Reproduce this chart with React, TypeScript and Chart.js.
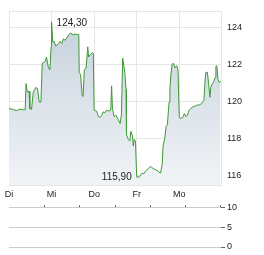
import React, { useEffect, useRef } from "react";
import { Chart, registerables } from "chart.js";

Chart.register(...registerables);

const dayLabels = ["Di", "Mi", "Do", "Fr", "Mo"];
const dayTicks = [0, 1, 2, 3, 4];
const priceTicks = [116, 118, 120, 122, 124];
const volumeTicks = [0, 5, 10];

const times = [
  0, 0.1, 0.18, 0.26, 0.34, 0.38, 0.4, 0.43, 0.47, 0.49, 0.53, 0.57, 0.63, 0.67, 0.71, 0.75,
  0.78, 0.81, 0.85, 0.88, 0.92, 0.96, 0.99, 1.0, 1.03, 1.06, 1.1, 1.16, 1.2, 1.24, 1.28, 1.31,
  1.35, 1.41, 1.45, 1.51, 1.55, 1.6, 1.64, 1.65, 1.68, 1.72, 1.74, 1.77, 1.81, 1.85, 1.87, 1.9,
  1.96, 1.98, 2.0, 2.06, 2.1, 2.14, 2.18, 2.21, 2.25, 2.29, 2.35, 2.39, 2.41, 2.43, 2.47, 2.51,
  2.57, 2.61, 2.64, 2.67, 2.7, 2.72, 2.75, 2.76, 2.8, 2.84, 2.86, 2.9, 2.92, 2.94, 2.97, 3.0,
  3.06, 3.09, 3.13, 3.17, 3.21, 3.27, 3.33, 3.36, 3.4, 3.44, 3.48, 3.52, 3.56, 3.6, 3.62, 3.66,
  3.69, 3.72, 3.76, 3.78, 3.8, 3.83, 3.86, 3.9, 3.94, 3.97, 4.0, 4.04, 4.08, 4.12, 4.16, 4.19,
  4.23, 4.27, 4.31, 4.37, 4.41, 4.47, 4.52, 4.58, 4.6, 4.62, 4.66, 4.69, 4.72, 4.74, 4.77, 4.8,
  4.84, 4.86, 4.88, 4.91, 4.94, 4.97,
];

const prices = [
  119.61, 119.55, 119.5, 119.58, 119.54, 119.55, 120.96, 120.5, 120.55, 119.6, 119.57, 120.5, 120.75, 120.7, 119.96, 119.96,
  122.07, 122.1, 122.16, 122.4, 121.9, 121.7, 122.95, 124.3, 123.2, 123.25, 122.99, 123.13, 123.25, 123.13, 123.39, 123.3,
  123.42, 123.62, 123.69, 123.6, 123.65, 123.62, 123.62, 121.55, 121.46, 120.31, 120.26, 121.72, 121.79, 122.95, 122.4, 122.5,
  122.64, 122.6, 119.52, 119.47, 119.17, 119.13, 119.26, 119.43, 119.38, 119.52, 119.47, 119.52, 120.84, 119.6, 119.17, 119.26,
  119.0, 118.8, 119.26, 122.34, 121.9, 121.55, 120.66, 118.2, 117.94, 117.85, 118.38, 118.12, 117.58, 117.94, 117.85, 115.9,
  115.9, 116.0, 116.12, 116.08, 116.23, 116.35, 116.48, 116.4, 116.35, 116.3, 116.26, 116.17, 116.12, 116.62, 117.58, 118.02,
  118.64, 118.73, 119.96, 120.66, 121.37, 121.98, 122.07, 121.81, 121.93, 121.7, 119.12, 119.08, 119.12, 119.34, 119.17, 119.26,
  119.52, 119.6, 119.7, 119.74, 119.79, 119.81, 119.87, 120.05, 120.93, 121.55, 121.58, 120.93, 120.22, 120.75, 120.93, 121.02,
  121.28, 121.9, 121.93, 121.19, 121.02, 121.1,
];

const volumes: number[] = [];

const FONT = "'Liberation Sans', Arial, sans-serif";
const TEXT = "#222";
const GRID = "#e6e6e6";

const fmt = (v: number) => v.toFixed(2).replace(".", ",");

const framePlugin = {
  id: "frame",
  beforeDatasetsDraw(chart: any) {
    const { ctx, chartArea } = chart;
    const l = Math.round(chartArea.left);
    const r = Math.round(chartArea.right);
    const t = Math.round(chartArea.top);
    const b = Math.round(chartArea.bottom);
    ctx.save();
    ctx.strokeStyle = GRID;
    ctx.lineWidth = 1;
    ctx.strokeRect(l + 0.5, t + 0.5, r - l, b - t);
    ctx.restore();
  },
};

const extremesPlugin = {
  id: "extremes",
  afterDatasetsDraw(chart: any) {
    const { ctx, scales } = chart;
    let maxI = 0;
    let minI = 0;
    prices.forEach((p, i) => {
      if (p > prices[maxI]) maxI = i;
      if (p < prices[minI]) minI = i;
    });
    ctx.save();
    ctx.font = `10px ${FONT}`;
    ctx.fillStyle = TEXT;
    ctx.textBaseline = "middle";
    ctx.textAlign = "left";
    ctx.fillText(fmt(prices[maxI]), scales.x.getPixelForValue(times[maxI]) + 5, scales.y.getPixelForValue(prices[maxI]) + 1);
    ctx.textAlign = "right";
    ctx.fillText(fmt(prices[minI]), scales.x.getPixelForValue(times[minI]) - 5, scales.y.getPixelForValue(prices[minI]));
    ctx.restore();
  },
};

function PriceChart() {
  const ref = useRef<HTMLCanvasElement>(null);
  useEffect(() => {
    if (!ref.current) return;
    const chart = new Chart(ref.current, {
      type: "line",
      data: {
        datasets: [
          {
            data: times.map((t, i) => ({ x: t, y: prices[i] })),
            borderColor: "#3d9b35",
            borderWidth: 1,
            pointRadius: 0,
            tension: 0,
            fill: "start",
            backgroundColor: (c: any) => {
              const area = c.chart.chartArea;
              if (!area) return "rgba(210,218,226,1)";
              const g = c.chart.ctx.createLinearGradient(0, area.top, 0, area.bottom);
              g.addColorStop(0, "rgba(196,207,218,1)");
              g.addColorStop(1, "rgba(241,244,247,1)");
              return g;
            },
          },
        ],
      },
      options: {
        animation: false,
        responsive: false,
        maintainAspectRatio: false,
        layout: { padding: { left: 9, top: 7, right: 0, bottom: 0 } },
        plugins: { legend: { display: false }, tooltip: { enabled: false } },
        scales: {
          x: {
            type: "linear",
            min: 0,
            max: 4.98,
            afterBuildTicks: (s: any) => {
              s.ticks = dayTicks.map((v) => ({ value: v }));
            },
            afterFit: (s: any) => {
              s.height = 15;
            },
            grid: { color: GRID, drawTicks: false },
            border: { display: false },
            ticks: {
              padding: 4,
              maxRotation: 0,
              autoSkip: false,
              color: TEXT,
              font: { size: 9, family: FONT },
              callback: (v: any) => dayLabels[dayTicks.indexOf(Number(v))] ?? "",
            },
          },
          y: {
            position: "right",
            min: 115.47,
            max: 124.87,
            afterBuildTicks: (s: any) => {
              s.ticks = priceTicks.map((v) => ({ value: v }));
            },
            afterFit: (s: any) => {
              s.width = 43;
            },
            grid: { color: GRID, drawTicks: false },
            border: { display: false },
            ticks: {
              padding: 6,
              color: TEXT,
              font: { size: 9, family: FONT },
              callback: (v: any) => String(v),
            },
          },
        },
      },
      plugins: [framePlugin, extremesPlugin],
    });
    return () => chart.destroy();
  }, []);
  return <canvas ref={ref} width={264} height={200} style={{ display: "block" }} />;
}

function VolumeChart() {
  const ref = useRef<HTMLCanvasElement>(null);
  useEffect(() => {
    if (!ref.current) return;
    const chart = new Chart(ref.current, {
      type: "bar",
      data: {
        datasets: [
          {
            data: volumes.map((v, i) => ({ x: times[i], y: v })),
            backgroundColor: "#888",
          },
        ],
      },
      options: {
        animation: false,
        responsive: false,
        maintainAspectRatio: false,
        layout: { padding: { left: 9, top: 0, right: 0, bottom: 8 } },
        plugins: { legend: { display: false }, tooltip: { enabled: false } },
        scales: {
          x: {
            type: "linear",
            position: "top",
            min: 0,
            max: 4.98,
            afterBuildTicks: (s: any) => {
              s.ticks = [...dayTicks, s.max].map((v) => ({ value: v }));
            },
            afterFit: (s: any) => {
              s.height = 7;
            },
            grid: { drawOnChartArea: false, drawTicks: true, tickLength: 2, color: "#444" },
            border: { display: false },
            ticks: { display: false },
          },
          y: {
            position: "right",
            min: 0,
            max: 10,
            afterBuildTicks: (s: any) => {
              s.ticks = volumeTicks.map((v) => ({ value: v }));
            },
            afterFit: (s: any) => {
              s.width = 43;
            },
            grid: { color: "#cccccc", drawTicks: true, tickLength: 4, tickColor: "#666" },
            border: { display: false },
            ticks: {
              padding: 2,
              color: TEXT,
              font: { size: 9, family: FONT },
              callback: (v: any) => String(v),
            },
          },
        },
      },
    });
    return () => chart.destroy();
  }, []);
  return <canvas ref={ref} width={264} height={55} style={{ display: "block" }} />;
}

export default function App() {
  return (
    <div style={{ position: "absolute", left: 0, top: 0, width: 264, height: 255, background: "#fff" }}>
      <PriceChart />
      <VolumeChart />
    </div>
  );
}
